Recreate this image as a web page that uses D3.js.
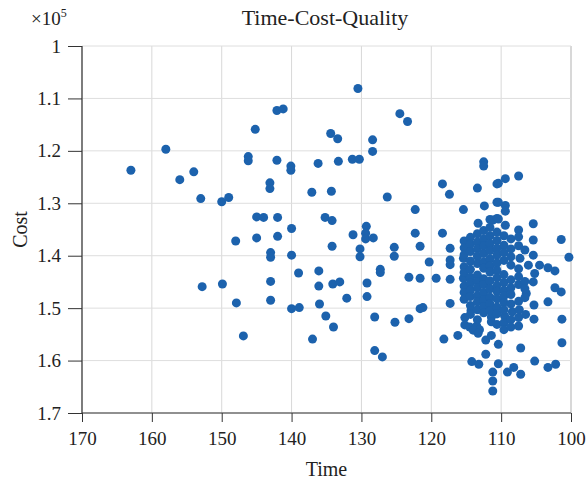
<!DOCTYPE html>
<html>
<head>
<meta charset="utf-8">
<script src="https://cdn.jsdelivr.net/npm/d3@7"></script>
<style>
  body { margin: 0; background: #fff; }
  text { font-family: "Liberation Serif", "DejaVu Serif", serif; fill: #222; }
</style>
</head>
<body>
<div id="chart"></div>
<script>
// Time-Cost-Quality scatter
const width = 586;
const height = 482;
const margin = { top: 46, right: 15, bottom: 69, left: 82 };

const xTicks = [170, 160, 150, 140, 130, 120, 110, 100];
const yTicks = [1, 1.1, 1.2, 1.3, 1.4, 1.5, 1.6, 1.7];

// scattered points (time, cost x1e5)
const timeVals = [
  163.0, 158.0, 154.0, 156.0, 153.0, 150.0, 149.0, 146.2, 146.2, 148.0,
  152.8, 149.9, 147.9, 146.9, 130.5, 142.1, 141.2, 124.5, 123.4, 145.2,
  134.4, 133.4, 128.4, 128.4, 142.1, 140.1, 140.1, 136.2, 133.3, 131.3,
  130.3, 143.1, 143.1, 137.1, 134.3, 126.3, 122.3, 145.0, 144.0, 142.0,
  140.0, 135.2, 134.2, 129.3, 131.2, 129.4, 129.4, 128.3, 122.3, 145.0,
  142.0, 134.2, 130.2, 130.2, 125.3, 125.3, 121.6, 143.0, 143.0, 140.0,
  139.0, 136.1, 136.1, 134.1, 133.1, 127.3, 127.3, 129.2, 123.2, 121.6,
  143.0, 143.0, 132.1, 129.2, 136.0, 140.0, 138.9, 135.1, 134.0, 137.0,
  128.1, 125.2, 123.2, 121.6, 128.1, 127.0,
  112.5, 112.5, 118.4, 117.4, 113.4, 110.6, 110.6, 115.4, 112.4, 113.3,
  111.6, 111.2, 110.6, 107.5, 109.4, 110.4, 110.4, 109.4, 109.4, 110.4,
  109.4, 105.4, 107.5, 118.4, 117.3, 120.3, 117.3, 117.3, 119.3, 117.3,
  115.4, 115.4, 121.2, 117.3, 105.4, 101.4, 100.3, 105.4, 107.3, 106.1,
  104.5, 103.3, 102.3, 105.2, 105.4, 102.3, 101.4, 106.4, 103.3, 105.3,
  115.2, 114.3, 111.4, 111.4, 115.2, 114.5, 113.5, 113.1, 114.0, 113.3,
  116.2, 118.2, 112.2, 111.4, 110.4, 112.2, 114.2, 113.2, 110.4, 111.2,
  111.2, 111.2, 105.3, 101.3, 101.3, 107.2, 105.2, 103.3, 102.2, 109.1,
  108.2, 107.2, 109.5, 108.4, 107.4, 106.5
];
const costVals = [
  1.237, 1.197, 1.240, 1.255, 1.291, 1.297, 1.289, 1.211, 1.219, 1.372,
  1.459, 1.454, 1.490, 1.553, 1.081, 1.123, 1.120, 1.129, 1.144, 1.159,
  1.167, 1.177, 1.179, 1.201, 1.218, 1.229, 1.237, 1.224, 1.220, 1.216,
  1.216, 1.261, 1.272, 1.279, 1.277, 1.288, 1.312, 1.326, 1.327, 1.327,
  1.348, 1.327, 1.333, 1.344, 1.360, 1.357, 1.368, 1.366, 1.357, 1.366,
  1.363, 1.382, 1.387, 1.402, 1.384, 1.401, 1.382, 1.394, 1.403, 1.399,
  1.433, 1.429, 1.458, 1.454, 1.450, 1.426, 1.432, 1.452, 1.441, 1.443,
  1.449, 1.485, 1.481, 1.478, 1.492, 1.501, 1.499, 1.515, 1.536, 1.559,
  1.517, 1.527, 1.520, 1.501, 1.581, 1.593,
  1.221, 1.229, 1.263, 1.283, 1.271, 1.263, 1.298, 1.312, 1.305, 1.338,
  1.331, 1.332, 1.329, 1.248, 1.253, 1.262, 1.298, 1.304, 1.315, 1.330,
  1.342, 1.339, 1.351, 1.357, 1.386, 1.412, 1.408, 1.417, 1.443, 1.445,
  1.405, 1.443, 1.499, 1.491, 1.370, 1.369, 1.403, 1.399, 1.405, 1.418,
  1.418, 1.423, 1.429, 1.434, 1.450, 1.461, 1.469, 1.472, 1.488, 1.494,
  1.518, 1.504, 1.517, 1.526, 1.532, 1.536, 1.534, 1.541, 1.542, 1.548,
  1.552, 1.559, 1.561, 1.552, 1.569, 1.588, 1.602, 1.607, 1.606, 1.622,
  1.639, 1.658, 1.521, 1.521, 1.566, 1.576, 1.601, 1.613, 1.607, 1.622,
  1.613, 1.626, 1.515, 1.507, 1.503, 1.512
];

// dense cluster, column by column
const clusterTime = [
  115.3, 115.3, 115.3, 115.3, 115.3, 115.3, 115.3, 115.3,
  114.4, 114.4, 114.4, 114.4, 114.4, 114.4, 114.4, 114.4, 114.4, 114.4, 114.4,
  113.4, 113.4, 113.4, 113.4, 113.4, 113.4, 113.4, 113.4, 113.4, 113.4, 113.4, 113.4,
  112.5, 112.5, 112.5, 112.5, 112.5, 112.5, 112.5, 112.5, 112.5, 112.5, 112.5, 112.5,
  111.6, 111.6, 111.6, 111.6, 111.6, 111.6, 111.6, 111.6, 111.6, 111.6, 111.6, 111.6,
  110.6, 110.6, 110.6, 110.6, 110.6, 110.6, 110.6, 110.6, 110.6, 110.6, 110.6, 110.6, 110.6,
  109.6, 109.6, 109.6, 109.6, 109.6, 109.6, 109.6, 109.6, 109.6, 109.6, 109.6, 109.6,
  108.6, 108.6, 108.6, 108.6, 108.6, 108.6, 108.6, 108.6, 108.6, 108.6,
  107.5, 107.5, 107.5, 107.5, 107.5, 107.5, 107.5, 107.5,
  106.6, 106.6, 106.6, 106.6
];
const clusterCost = [
  1.372, 1.385, 1.398, 1.421, 1.432, 1.458, 1.470, 1.483,
  1.365, 1.378, 1.392, 1.410, 1.426, 1.441, 1.452, 1.466, 1.478, 1.495, 1.512,
  1.358, 1.374, 1.387, 1.401, 1.415, 1.437, 1.449, 1.461, 1.476, 1.488, 1.503, 1.522,
  1.352, 1.368, 1.381, 1.396, 1.412, 1.424, 1.444, 1.455, 1.470, 1.484, 1.497, 1.509,
  1.346, 1.362, 1.377, 1.390, 1.406, 1.419, 1.431, 1.448, 1.463, 1.479, 1.492, 1.505,
  1.355, 1.371, 1.386, 1.399, 1.414, 1.428, 1.442, 1.457, 1.468, 1.482, 1.498, 1.511, 1.531,
  1.362, 1.380, 1.394, 1.409, 1.436, 1.451, 1.466, 1.477, 1.489, 1.503, 1.528, 1.541,
  1.368, 1.387, 1.402, 1.418, 1.446, 1.461, 1.474, 1.492, 1.522, 1.536,
  1.364, 1.381, 1.425, 1.440, 1.455, 1.487, 1.518, 1.534,
  1.389, 1.449, 1.463, 1.480
];

const points = timeVals.map((t, i) => ({ t: t, c: costVals[i] }))
  .concat(clusterTime.map((t, i) => ({ t: t, c: clusterCost[i] })));

const svg = d3.select("#chart").append("svg")
  .attr("width", width)
  .attr("height", height);

const x = d3.scaleLinear().domain([170, 100]).range([margin.left, width - margin.right]);
const y = d3.scaleLinear().domain([1, 1.7]).range([margin.top, height - margin.bottom]);

// grid
svg.append("g").selectAll("line.vx")
  .data(xTicks)
  .enter().append("line")
  .attr("x1", d => x(d)).attr("x2", d => x(d))
  .attr("y1", margin.top).attr("y2", height - margin.bottom)
  .attr("stroke", "#d8d8d8").attr("stroke-width", d => d === 100 ? 2 : 1);
svg.append("g").selectAll("line.hy")
  .data(yTicks)
  .enter().append("line")
  .attr("x1", margin.left).attr("x2", width - margin.right)
  .attr("y1", d => y(d)).attr("y2", d => y(d))
  .attr("stroke", "#dedede");

// axes
const xAxis = svg.append("g")
  .attr("transform", `translate(0,${height - margin.bottom})`)
  .call(d3.axisBottom(x).tickValues(xTicks).tickSize(9).tickPadding(10));
const yAxis = svg.append("g")
  .attr("transform", `translate(${margin.left},0)`)
  .call(d3.axisLeft(y).tickValues(yTicks).tickSize(14).tickPadding(7)
    .tickFormat(d => d === 1 ? "1" : d3.format(".1f")(d)));

[xAxis, yAxis].forEach(g => {
  g.select(".domain").attr("stroke", "#333").attr("stroke-width", 1.2);
  g.selectAll(".tick line").attr("stroke", "#333");
  g.selectAll("text")
    .style("font-family", "'Liberation Serif', serif")
    .style("font-size", "19px")
    .attr("fill", "#222");
});
xAxis.select(".domain").attr("d", `M${x(170)},0H${x(100)}`);
yAxis.select(".domain").attr("d", `M0,${y(1)}V${y(1.7)}`);

// points
svg.append("g").selectAll("circle")
  .data(points)
  .enter().append("circle")
  .attr("cx", d => x(d.t))
  .attr("cy", d => y(d.c))
  .attr("r", 4.5)
  .attr("fill", "#1c62ad");

// labels
svg.append("text")
  .attr("x", 325).attr("y", 25)
  .attr("text-anchor", "middle")
  .style("font-size", "22px")
  .text("Time-Cost-Quality");

const mult = svg.append("text")
  .attr("x", 31).attr("y", 25)
  .style("font-size", "19px")
  .text("×10");
mult.append("tspan")
  .attr("dy", -8)
  .style("font-size", "12px")
  .text("5");

svg.append("text")
  .attr("x", x(135)).attr("y", 476)
  .attr("text-anchor", "middle")
  .style("font-size", "20px")
  .text("Time");

svg.append("text")
  .attr("transform", `translate(27,${y(1.35)}) rotate(-90)`)
  .attr("text-anchor", "middle")
  .style("font-size", "20px")
  .text("Cost");
</script>
</body>
</html>
